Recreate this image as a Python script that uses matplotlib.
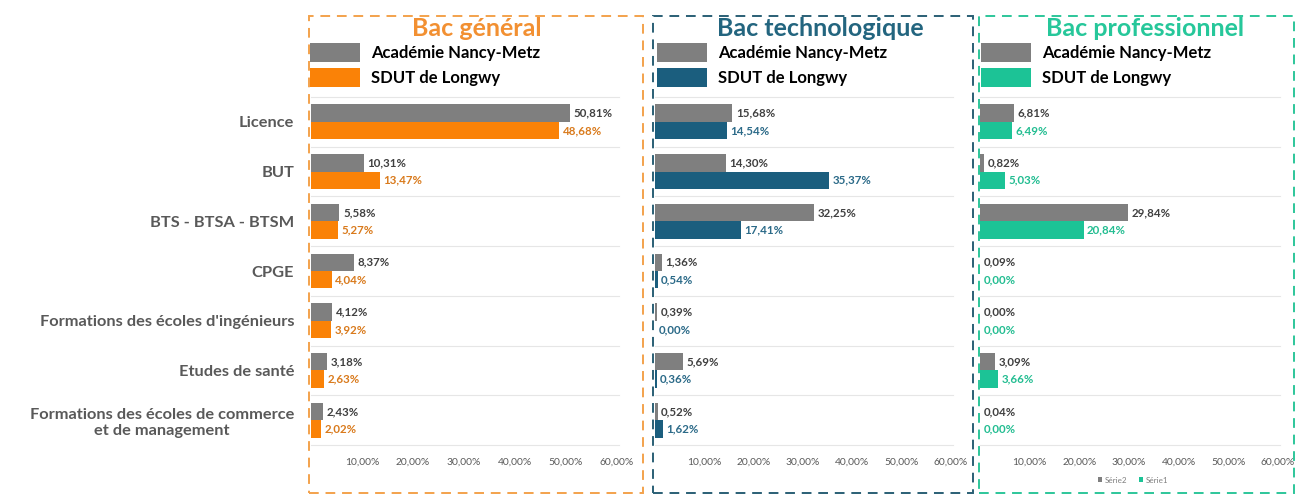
import numpy as np
import matplotlib.pyplot as plt
from matplotlib.patches import Rectangle

plt.rcParams['font.family'] = ['Lato', 'DejaVu Sans']

categories = ['Licence', 'BUT', 'BTS - BTSA - BTSM', 'CPGE',
              "Formations des écoles d'ingénieurs", 'Etudes de santé',
              'Formations des écoles de commerce\net de management']
panels = ['Bac général', 'Bac technologique', 'Bac professionnel']
academie = [
    [50.81, 10.31, 5.58, 8.37, 4.12, 3.18, 2.43],
    [15.68, 14.30, 32.25, 1.36, 0.39, 5.69, 0.52],
    [6.81, 0.82, 29.84, 0.09, 0.00, 3.09, 0.04],
]
sdut = [
    [48.68, 13.47, 5.27, 4.04, 3.92, 2.63, 2.02],
    [14.54, 35.37, 17.41, 0.54, 0.00, 0.36, 1.62],
    [6.49, 5.03, 20.84, 0.00, 0.00, 3.66, 0.00],
]
ticks = [10, 20, 30, 40, 50, 60]

W, H = 1297, 494
gray = '#7f7f7f'
bar_colors = ['#fa8207', '#1b5e7e', '#1cc396']
title_colors = ['#f29032', '#23657f', '#26c79a']
label_colors = ['#d97a1c', '#2b6a88', '#22bd91']
box_colors = ['#f3a24c', '#2a5f75', '#2dc69a']

# pixel layout: (x of 0%, x of 60%), dashed box (left, right), legend x
axes_px = [(311, 617), (655, 951), (980, 1278)]
box_px = [(309, 643), (653, 973), (979, 1294)]
leg_px = [310, 657, 981]
title_x = [477, 820, 1145]
top, bottom = 97, 445

fig = plt.figure(figsize=(W / 100, H / 100), dpi=100)
y = np.arange(len(categories))
h = 0.35

for k in range(3):
    x0, x1 = axes_px[k]
    ax = fig.add_axes([x0 / W, 1 - bottom / H, (x1 - x0) / W, (bottom - top) / H])
    b1 = ax.barh(y - h / 2, academie[k], height=h, color=gray, label='Académie Nancy-Metz')
    b2 = ax.barh(y + h / 2, sdut[k], height=h, color=bar_colors[k], label='SDUT de Longwy')
    ax.set_xlim(0, 60)
    ax.set_ylim(len(categories) - 0.5, -0.5)
    for i in range(len(categories) + 1):
        ax.plot([0, 60.4], [i - 0.5, i - 0.5], color='#e6e6e6', lw=0.8, clip_on=False, zorder=0)
    for yi, v in zip(y, academie[k]):
        ax.text(v + 0.7, yi - h / 2, f'{v:.2f}%'.replace('.', ','), va='center', ha='left',
                fontsize=8.3, fontweight='bold', color='#404040')
    for yi, v in zip(y, sdut[k]):
        ax.text(v + 0.7, yi + h / 2, f'{v:.2f}%'.replace('.', ','), va='center', ha='left',
                fontsize=8.3, fontweight='bold', color=label_colors[k])
    ax.set_xticks(ticks)
    ax.set_xticklabels([f'{t:.2f}%'.replace('.', ',') for t in ticks], fontsize=7.4,
                       color='#595959')
    ax.tick_params(axis='x', length=0, pad=9)
    if k == 0:
        ax.set_yticks(y)
        ax.set_yticklabels(categories, fontsize=11.8, fontweight='bold', color='#595959',
                           multialignment='center')
        ax.tick_params(axis='y', length=0, pad=12)
    else:
        ax.set_yticks([])
    for s in ax.spines.values():
        s.set_visible(False)

    # title and legend
    fig.text(title_x[k] / W, 1 - 29 / H, panels[k], ha='center', va='center',
             fontsize=18, fontweight='bold', color=title_colors[k])
    fig.legend(handles=[b1, b2], loc='upper left',
               bbox_to_anchor=(leg_px[k] / W, 1 - 43 / H), frameon=False,
               prop={'size': 12, 'weight': 'bold'}, handlelength=3.0, handleheight=1.35,
               handletextpad=0.65, labelspacing=0.4, borderpad=0, borderaxespad=0)
    if k == 2:
        ax.legend([b1, b2], ['Série2', 'Série1'], loc='center', ncol=2,
                  bbox_to_anchor=(1133 / W, 1 - 480 / H), bbox_transform=fig.transFigure,
                  frameon=False, fontsize=5.8, handlelength=0.6, handleheight=0.6,
                  handletextpad=0.3, columnspacing=1.4, labelcolor='#7f7f7f')

    bx0, bx1 = box_px[k]
    fig.patches.append(Rectangle((bx0 / W, 1 - 493 / H), (bx1 - bx0) / W, (493 - 16) / H,
                                 transform=fig.transFigure, fill=False, ec=box_colors[k],
                                 lw=1.4, ls=(0, (5, 3.5))))

fig.savefig('out.png', dpi=100)
